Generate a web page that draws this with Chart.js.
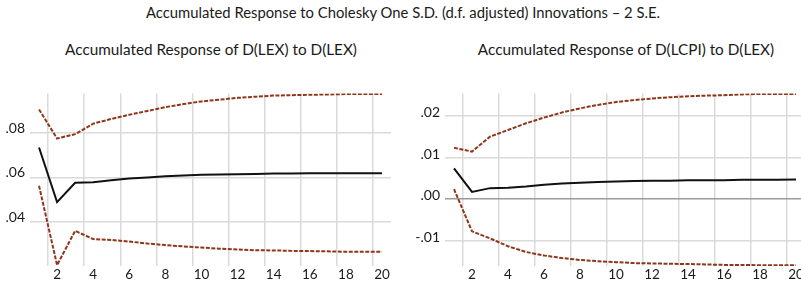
<!DOCTYPE html>
<html>
<head>
<meta charset="utf-8">
<script src="https://cdn.jsdelivr.net/npm/chart.js@4.4.1/dist/chart.umd.min.js"></script>
<style>
  html, body { margin: 0; padding: 0; background: #fff; overflow: hidden; width: 801px; height: 283px; }
  .title { position: absolute; font-family: "Lato", sans-serif; color: #1a1a1a; white-space: nowrap; transform: translateX(-50%); }
  .box { position: absolute; }
</style>
</head>
<body>
<div class="title" style="left:403px; top:3px; font-size:14.8px;">Accumulated Response to Cholesky One S.D. (d.f. adjusted) Innovations – 2 S.E.</div>
<div class="title" style="left:211px; top:40px; font-size:15.3px;">Accumulated Response of D(LEX) to D(LEX)</div>
<div class="title" style="left:626px; top:40px; font-size:15.3px;">Accumulated Response of D(LCPI) to D(LEX)</div>

<div class="box" style="left:0; top:80px; width:400px; height:203px;"><canvas id="chartLex"></canvas></div>
<div class="box" style="left:400px; top:80px; width:410px; height:203px;"><canvas id="chartLcpi"></canvas></div>

<script>
// =======================
// DATA
// =======================

const periods = ["1","2","3","4","5","6","7","8","9","10","11","12","13","14","15","16","17","18","19","20"];

// D(LEX) -> D(LEX)
const lexResp  = [0.0736,0.0490,0.0577,0.0580,0.0589,0.0596,0.0601,0.0606,0.0610,0.0613,0.0614,0.0616,0.0617,0.0619,0.0619,0.0620,0.0620,0.0620,0.0620,0.0620];
const lexUpper = [0.0907,0.0776,0.0796,0.0843,0.0864,0.0883,0.0900,0.0917,0.0931,0.0943,0.0951,0.0959,0.0964,0.0969,0.0971,0.0973,0.0974,0.0976,0.0976,0.0976];
const lexLower = [0.0564,0.0207,0.0361,0.0324,0.0320,0.0313,0.0304,0.0297,0.0291,0.0286,0.0281,0.0277,0.0274,0.0273,0.0271,0.0270,0.0269,0.0267,0.0267,0.0267];
const lexTicks = [0.04, 0.06, 0.08];

// D(LCPI) -> D(LEX)
const lcpiResp  = [0.00736,0.00169,0.0026,0.0027,0.0030,0.0034,0.0037,0.0039,0.0041,0.0042,0.0043,0.0044,0.0044,0.0045,0.0045,0.0045,0.0046,0.0046,0.0046,0.0047];
const lcpiUpper = [0.01233,0.01141,0.01501,0.01662,0.01823,0.01961,0.02084,0.02183,0.02267,0.02336,0.02382,0.02421,0.02451,0.02474,0.0249,0.0250,0.0252,0.0253,0.0253,0.0253];
const lcpiLower = [0.00237,-0.00781,-0.0095,-0.01141,-0.01279,-0.01363,-0.01425,-0.01471,-0.01501,-0.01524,-0.01547,-0.01555,-0.01563,-0.0157,-0.0158,-0.0159,-0.0159,-0.0160,-0.0160,-0.0160];
const lcpiTicks = [-0.01, 0.00, 0.01, 0.02];

// =======================
// HELPERS
// =======================

const bandColor = "#8e361a";
const gridColor = "#dadada";

function fmtTick(v) {
  // EViews style: .08, -.01
  let s = Math.abs(v).toFixed(2).replace(/^0/, "");
  return (v < -1e-9 ? "-" : "") + s;
}

function makeChart(id, resp, upper, lower, yTicks, yMin, yMax, yWidth, padRight, padTop, lblShift) {
  return new Chart(document.getElementById(id), {
    type: "line",
    data: {
      labels: periods,
      datasets: [
        { data: upper, borderColor: bandColor, borderWidth: 2, borderDash: [4, 1.5], pointRadius: 0, tension: 0 },
        { data: resp, borderColor: "#111", borderWidth: 2, pointRadius: 0, tension: 0 },
        { data: lower, borderColor: bandColor, borderWidth: 2, borderDash: [4, 1.5], pointRadius: 0, tension: 0 }
      ]
    },
    options: {
      responsive: true,
      maintainAspectRatio: false,
      animation: false,
      layout: { padding: { top: padTop, right: padRight, left: 0, bottom: 0 } },
      plugins: { legend: { display: false }, tooltip: { enabled: false } },
      scales: {
        x: {
          type: "category",
          offset: true,
          border: { display: false },
          grid: {
            offset: true,
            drawTicks: false,
            lineWidth: 1.5,
            color: ctx => (ctx.index !== undefined && ctx.index % 2 === 1) ? gridColor : "rgba(0,0,0,0)"
          },
          ticks: {
            autoSkip: false,
            maxRotation: 0,
            padding: 1,
            color: "#1a1a1a",
            font: { family: "Lato", size: 13.5 },
            callback: (val, i) => (i % 2 === 1 ? periods[i] : "")
          },
          afterFit: s => { s.height = 17; }
        },
        y: {
          min: yMin,
          max: yMax,
          border: { display: false },
          grid: {
            drawTicks: false,
            color: ctx => (ctx.tick && Math.abs(ctx.tick.value) < 1e-9) ? "#9a9a9a" : gridColor,
            lineWidth: 1.5
          },
          afterBuildTicks: s => { s.ticks = yTicks.map(v => ({ value: v })); },
          ticks: {
            padding: 5,
            labelOffset: lblShift,
            color: "#1a1a1a",
            font: { family: "Lato", size: 14 },
            callback: v => fmtTick(v)
          },
          afterFit: s => { s.width = yWidth; }
        }
      }
    }
  });
}

// =======================
// INIT
// =======================

makeChart("chartLex", lexResp, lexUpper, lexLower, lexTicks, 0.0203, 0.0979, 30, 9, 5, -5);
makeChart("chartLcpi", lcpiResp, lcpiUpper, lcpiLower, lcpiTicks, -0.01617, 0.02544, 45, 5, 4, -3);
</script>
</body>
</html>
